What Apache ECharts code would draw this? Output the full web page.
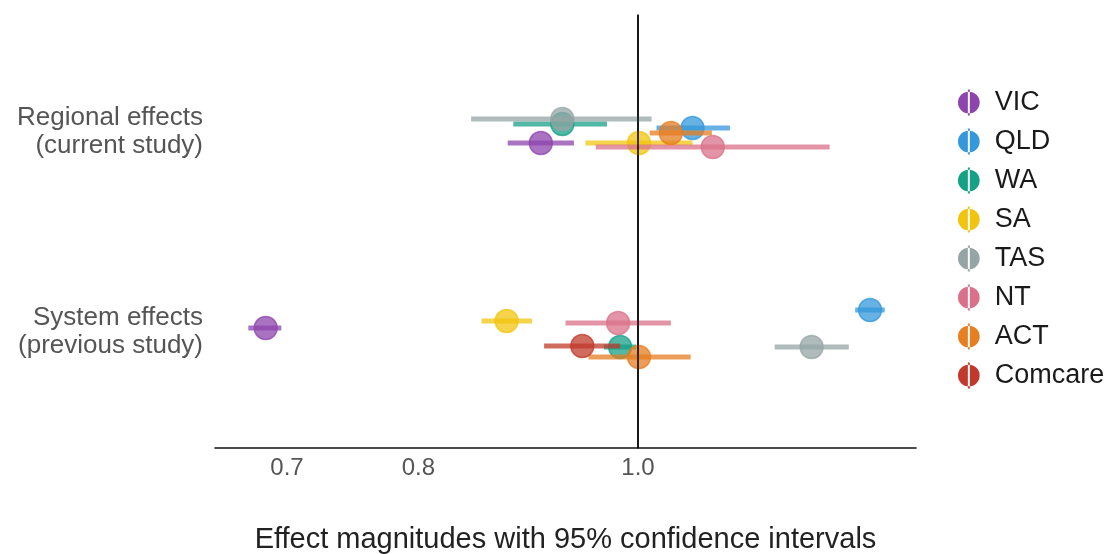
<!DOCTYPE html>
<html>
<head>
<meta charset="utf-8">
<script src="https://cdn.jsdelivr.net/npm/echarts@6/dist/echarts.min.js"></script>
<style>html,body{margin:0;padding:0;background:#fff}#c{width:1107px;height:554px}</style>
</head>
<body>
<div id="c"></div>
<script>
// ---- data ----
const states = ['VIC', 'QLD', 'WA', 'SA', 'TAS', 'NT', 'ACT', 'Comcare'];
const groups = ['System effects\n(previous study)', 'Regional effects\n(current study)'];
const xTicks = [0.7, 0.8, 1.0];

// Regional effects (current study)
const regionalEst   = [0.906, 1.057, 0.926, 1.001, 0.926, 1.079, 1.034, null];
const regionalLower = [0.876, 1.019, 0.881, 0.948, 0.844, 0.958, 1.012, null];
const regionalUpper = [0.937, 1.098, 0.969, 1.057, 1.014, 1.215, 1.078, null];
const regionalJitter = [-0.055, 0.02, 0.04, -0.055, 0.065, -0.075, -0.005, null];

// System effects (previous study)
const systemEst   = [0.685, 1.266, 0.982, 0.875, 1.193, 0.980, 1.001, 0.945];
const systemLower = [0.673, 1.247, 0.966, 0.853, 1.149, 0.929, 0.951, 0.909];
const systemUpper = [0.696, 1.285, 0.998, 0.898, 1.239, 1.034, 1.055, 0.982];
const systemJitter = [0.02, 0.11, -0.075, 0.055, -0.075, 0.045, -0.125, -0.07];

const colors = ['#8e44ad', '#3498db', '#16a085', '#f1c40f', '#95a5a6', '#d9718a', '#e67e22', '#c0392b'];

// ---- chart ----
const L = Math.log10;
const font = 'Liberation Sans, Arial, sans-serif';
const legendIcon = 'path://M0,12 A10,10 0 1,0 20,12 A10,10 0 1,0 0,12 Z M9.1,0 L10.9,0 L10.9,24 L9.1,24 Z';

const series = states.map((s, i) => {
  const data = [];
  if (regionalEst[i] != null) data.push([L(regionalEst[i]), L(regionalLower[i]), L(regionalUpper[i]), 2 + regionalJitter[i]]);
  if (systemEst[i] != null) data.push([L(systemEst[i]), L(systemLower[i]), L(systemUpper[i]), 1 + systemJitter[i]]);
  return {
    name: s,
    type: 'custom',
    data: data,
    encode: { x: [0, 1, 2], y: 3 },
    itemStyle: { color: colors[i] },
    renderItem: function (params, api) {
      const y = api.value(3);
      const p = api.coord([api.value(0), y]);
      const a = api.coord([api.value(1), y]);
      const b = api.coord([api.value(2), y]);
      return {
        type: 'group',
        children: [
          { type: 'line', shape: { x1: a[0], y1: a[1], x2: b[0], y2: b[1] },
            style: { stroke: colors[i], lineWidth: 5, opacity: 0.75 } },
          { type: 'circle', shape: { cx: p[0], cy: p[1], r: 11.5 },
            style: { fill: colors[i], opacity: 0.75, stroke: colors[i], lineWidth: 1.5 } }
        ]
      };
    }
  };
});

series[0].markLine = {
  silent: true, symbol: 'none', animation: false,
  label: { show: false },
  lineStyle: { color: '#111', width: 1.6, type: 'solid' },
  data: [{ xAxis: L(1) }]
};

const chart = echarts.init(document.getElementById('c'));
chart.setOption({
  animation: false,
  textStyle: { fontFamily: font },
  grid: { left: 215, right: 191, top: 15, bottom: 106, outerBoundsMode: 'none', containLabel: false },
  legend: {
    orient: 'vertical', left: 953, top: 84,
    itemWidth: 22, itemHeight: 26, itemGap: 12,
    icon: legendIcon,
    textStyle: { fontSize: 27, color: '#1a1a1a', fontFamily: font, padding: [0, 0, 0, 10] },
    data: states
  },
  xAxis: {
    type: 'value',
    min: L(0.6506), max: L(1.3265),
    name: 'Effect magnitudes with 95% confidence intervals',
    nameLocation: 'middle', nameGap: 77,
    nameTextStyle: { fontSize: 29, color: '#222', fontFamily: font },
    axisLine: { show: true, lineStyle: { color: '#111', width: 1.6 } },
    axisTick: { show: false },
    splitLine: { show: false },
    axisLabel: {
      customValues: xTicks.map(L),
      formatter: v => Math.pow(10, v).toFixed(1),
      fontSize: 24, color: '#555', margin: 8, fontFamily: font
    }
  },
  yAxis: {
    type: 'value',
    min: 0.42, max: 2.585,
    axisLine: { show: true, lineStyle: { color: '#111', width: 1.6 } },
    axisTick: { show: false, customValues: [1, 2] },
    splitLine: { show: false },
    axisLabel: {
      customValues: [1, 2],
      formatter: v => groups[Math.round(v) - 1],
      fontSize: 26, color: '#555', margin: 12, align: 'right', lineHeight: 28, fontFamily: font
    }
  },
  series: series
});
</script>
</body>
</html>
